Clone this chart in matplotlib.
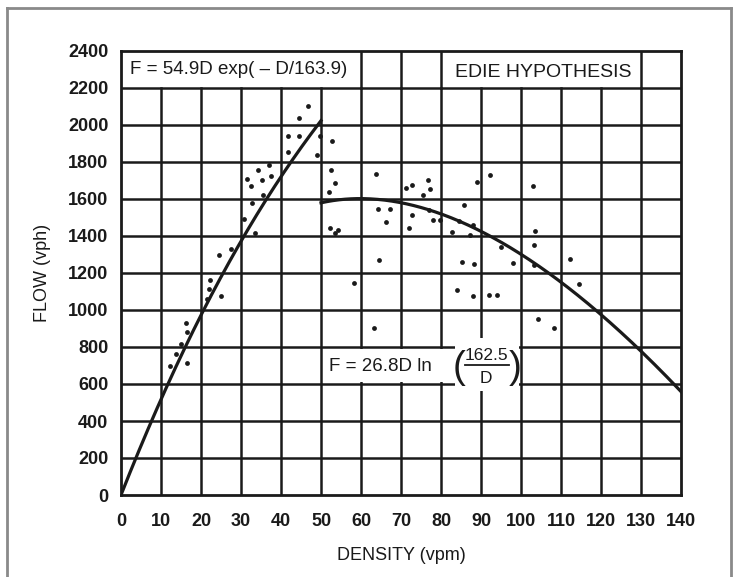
import numpy as np
import matplotlib.pyplot as plt
from matplotlib.lines import Line2D
from matplotlib.patches import Rectangle

plt.rcParams['font.family'] = ['Liberation Sans', 'DejaVu Sans']

# observed density (vpm) / flow (vph) pairs
density_pts = [12.25, 13.7, 14.9, 16.6, 16.25, 16.6, 21.6, 25.0, 22.0, 22.25,
               24.5, 27.4, 30.75, 33.5, 32.8, 35.4, 32.4, 31.6, 35.3, 37.4,
               37.0, 34.2, 41.8, 41.8, 44.5, 44.5, 46.8, 49.75, 48.9,
               52.7, 52.4, 53.5, 52.1, 52.25, 53.5, 54.3, 58.25, 63.25, 63.75,
               64.3, 67.25, 66.2, 64.5, 71.2, 72.7, 72.7, 72.1, 76.8, 77.25,
               75.6, 77.1, 78.1, 79.75, 82.7, 84.6, 85.75, 87.25, 88.1, 88.9,
               92.25, 85.3, 88.25, 83.9, 87.9, 92.1, 93.9, 95.0, 98.1, 103.1,
               103.5, 103.25, 103.3, 104.3, 108.3, 112.25, 114.5]
flow_pts = [699, 762, 816, 879, 930, 713, 1060, 1074, 1116, 1161,
            1296, 1331, 1493, 1414, 1576, 1620, 1670, 1710, 1703, 1724,
            1784, 1757, 1856, 1938, 1941, 2040, 2100, 1938, 1838,
            1911, 1757, 1685, 1638, 1445, 1414, 1430, 1147, 903, 1733,
            1544, 1548, 1475, 1269, 1658, 1676, 1511, 1445, 1701, 1652,
            1620, 1538, 1484, 1484, 1421, 1481, 1565, 1408, 1457, 1693,
            1728, 1262, 1251, 1107, 1078, 1083, 1083, 1340, 1255, 1670,
            1427, 1354, 1242, 953, 903, 1277, 1143]

# Edie model parameters
uncong_a, uncong_dm = 54.9, 163.9     # F = a D exp(-D/dm), D <= 50
cong_b, cong_dj = 26.8, 162.5         # F = b D ln(dj/D), D >= 50
d_break, d_max = 50, 140

x_ticks = list(range(0, 141, 10))
y_ticks = list(range(0, 2401, 200))

ink = '#1a1a1a'

fig = plt.figure(figsize=(7.36, 5.77), dpi=100)
ax = fig.add_axes([121 / 736, 1 - 495 / 577, 560 / 736, 444 / 577])
ax.set_xlim(0, 140)
ax.set_ylim(0, 2400)

# grid: full height except top row, where only a few lines run
for x in x_ticks[1:-1]:
    ax.plot([x, x], [0, 2200], color=ink, lw=1.8, zorder=1)
for x in [60, 70, 80, 130]:
    ax.plot([x, x], [2200, 2400], color=ink, lw=1.8, zorder=1)
for y in y_ticks[1:-1]:
    ax.plot([0, 140], [y, y], color=ink, lw=1.8, zorder=1)

for s in ax.spines.values():
    s.set_linewidth(2.0)
    s.set_color(ink)

ax.set_xticks(x_ticks)
ax.set_yticks(y_ticks)
ax.tick_params(length=0, labelsize=13, labelcolor=ink)
ax.tick_params(axis='x', pad=13)
ax.tick_params(axis='y', pad=9)
for lbl in ax.get_xticklabels() + ax.get_yticklabels():
    lbl.set_fontweight('bold')

ax.set_xlabel('DENSITY (vpm)', fontsize=13, color=ink, labelpad=12)
ax.set_ylabel('FLOW (vph)', fontsize=13, color=ink, labelpad=12)

# model curves
d1 = np.linspace(0, d_break, 200)
f1 = uncong_a * d1 * np.exp(-d1 / uncong_dm)
d2 = np.linspace(d_break, d_max, 300)
f2 = cong_b * d2 * np.log(cong_dj / d2)
ax.plot(d1, f1, color=ink, lw=2.3, zorder=4)
ax.plot(d2, f2, color=ink, lw=2.3, zorder=4)

ax.scatter(density_pts, flow_pts, s=12, color=ink, zorder=5, linewidths=0)

# label boxes
ax.text(2.3, 2300, 'F = 54.9D exp( \u2013 D/163.9)', fontsize=13.5, color=ink,
        va='center', ha='left', zorder=6)
ax.text(105.5, 2285, 'EDIE HYPOTHESIS', fontsize=14, color=ink,
        va='center', ha='center', zorder=6)

ax.add_patch(Rectangle((50.6, 610), 49.0, 180, facecolor='white',
                       edgecolor='none', zorder=2))
ax.add_patch(Rectangle((83.5, 560), 16.0, 290, facecolor='white',
                       edgecolor='none', zorder=2))
ax.text(52, 695, 'F = 26.8D ln', fontsize=13.5, color=ink,
        va='center', ha='left', zorder=6)
ax.text(91.3, 752, '162.5', fontsize=12.5, color=ink, va='center', ha='center', zorder=6)
ax.text(91.3, 628, 'D', fontsize=12.5, color=ink, va='center', ha='center', zorder=6)
ax.plot([86.0, 97.0], [702, 702], color=ink, lw=1.3, zorder=6)
ax.text(84.6, 688, '(', fontsize=28, color=ink, va='center', ha='center', zorder=6)
ax.text(98.6, 688, ')', fontsize=28, color=ink, va='center', ha='center', zorder=6)

# outer frame of the figure
frame = dict(color='#8a8a8a', lw=2.0, transform=fig.transFigure)
fig.add_artist(Line2D([7 / 736, 7 / 736], [0, 1 - 8 / 577], **frame))
fig.add_artist(Line2D([7 / 736, 731 / 736], [1 - 8 / 577, 1 - 8 / 577], **frame))
fig.add_artist(Line2D([731 / 736, 731 / 736], [0, 1 - 8 / 577], **frame))

fig.savefig('out.png', dpi=100)
